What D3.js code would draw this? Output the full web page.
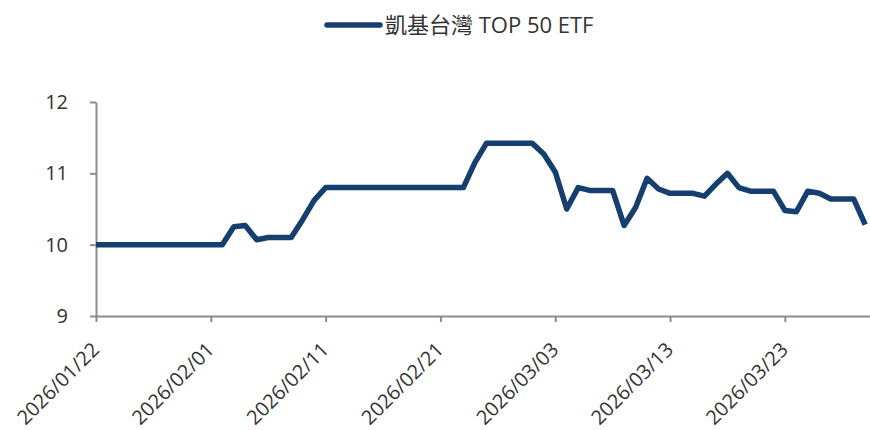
<!DOCTYPE html>
<html>
<head>
<meta charset="utf-8">
<script src="https://cdn.jsdelivr.net/npm/d3@7"></script>
<style>
  body { margin: 0; background: #fff; }
  svg { display: block; }
</style>
</head>
<body>
<div class="chart-container"></div>
<script>
// valeurs (une valeur par jour calendaire depuis le 2026/01/22)
const startDate = '2026/01/22';
const seriesName = '凱基台灣 TOP 50 ETF';
const navValues = [
    10.00, 10.00, 10.00, 10.00, 10.00, 10.00, 10.00, 10.00, 10.00, 10.00, 10.00, 10.00,
    10.25, 10.27, 10.07, 10.10, 10.10, 10.10, 10.35, 10.62,
    10.80, 10.80, 10.80, 10.80, 10.80, 10.80, 10.80, 10.80, 10.80, 10.80, 10.80, 10.80, 10.80,
    11.15, 11.42, 11.42, 11.42, 11.42, 11.42, 11.27, 11.02, 10.50, 10.80,
    10.76, 10.76, 10.76, 10.27, 10.52, 10.93, 10.78, 10.72, 10.72, 10.72,
    10.68, 10.85, 11.00, 10.80, 10.75, 10.75, 10.75, 10.48, 10.46, 10.75, 10.72,
    10.64, 10.64, 10.64, 10.28
];
const xTickLabels = ['2026/01/22', '2026/02/01', '2026/02/11', '2026/02/21', '2026/03/03', '2026/03/13', '2026/03/23'];
const yTicks = [9, 10, 11, 12];

const width = 870;
const height = 430;
const margin = { top: 102, right: 0, bottom: 114, left: 96 };

const parseDate = d3.timeParse('%Y/%m/%d');
const fmt = d3.timeFormat('%Y/%m/%d');
const t0 = parseDate(startDate);

const data = navValues.map((v, i) => ({ date: d3.timeDay.offset(t0, i), value: v }));

const svg = d3.select('.chart-container')
    .append('svg')
    .attr('width', width)
    .attr('height', height);

// échelles
const xEnd = new Date(+d3.timeDay.offset(t0, 67) + 10 * 3600 * 1000);
const xScale = d3.scaleTime()
    .domain([t0, xEnd])
    .range([margin.left, width - margin.right]);

const yScale = d3.scaleLinear()
    .domain([9, 12])
    .range([height - margin.bottom, margin.top]);

const axisColor = '#8c8c8c';
const textColor = '#333';
const fontFamily = '"Open Sans", "Noto Sans CJK TC", sans-serif';

// axe X
const xAxis = svg.append('g')
    .attr('transform', `translate(0,${height - margin.bottom})`)
    .call(d3.axisBottom(xScale)
        .tickValues(xTickLabels.map(parseDate))
        .tickSizeInner(6)
        .tickSizeOuter(0)
        .tickFormat(fmt));

xAxis.select('.domain').attr('stroke', axisColor).attr('stroke-width', 2);
xAxis.selectAll('.tick line').attr('stroke', axisColor).attr('stroke-width', 2);
xAxis.selectAll('.tick text')
    .attr('font-family', fontFamily)
    .attr('font-size', 20)
    .attr('fill', textColor)
    .attr('text-anchor', 'end')
    .attr('dy', null)
    .attr('y', null)
    .attr('transform', 'translate(4,35) rotate(-45)');

// axe Y
const yAxis = svg.append('g')
    .attr('transform', `translate(${margin.left},0)`)
    .call(d3.axisLeft(yScale)
        .tickValues(yTicks)
        .tickSizeInner(6)
        .tickSizeOuter(0)
        .tickPadding(22)
        .tickFormat(d3.format('d')));

yAxis.select('.domain').attr('stroke', axisColor).attr('stroke-width', 2);
yAxis.selectAll('.tick line').attr('stroke', axisColor).attr('stroke-width', 2);
yAxis.selectAll('.tick text')
    .attr('font-family', fontFamily)
    .attr('font-size', 20)
    .attr('fill', textColor);

// ligne
const line = d3.line()
    .x(d => xScale(d.date))
    .y(d => yScale(d.value));

svg.append('path')
    .datum(data)
    .attr('fill', 'none')
    .attr('stroke', '#143f6f')
    .attr('stroke-width', 5.5)
    .attr('stroke-linejoin', 'round')
    .attr('d', line);

// légende
const legend = svg.append('g').attr('transform', 'translate(325,25)');
legend.append('line')
    .attr('x1', 2).attr('x2', 55)
    .attr('stroke', '#143f6f')
    .attr('stroke-width', 5.5)
    .attr('stroke-linecap', 'round');
legend.append('text')
    .attr('x', 60)
    .attr('y', 8)
    .attr('font-family', fontFamily)
    .attr('font-size', 22)
    .attr('fill', textColor)
    .text(seriesName);
</script>
</body>
</html>
